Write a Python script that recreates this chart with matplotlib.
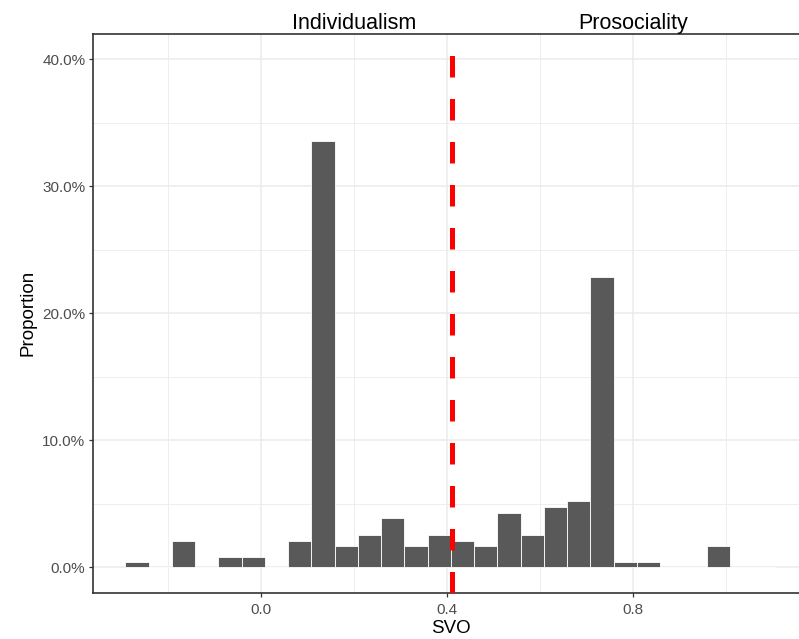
import matplotlib
matplotlib.use("Agg")
import matplotlib.pyplot as plt
from matplotlib.ticker import FuncFormatter, MultipleLocator

plt.rcParams['font.family'] = ['Liberation Sans', 'DejaVu Sans']

# histogram bins (centre of each SVO bin) and share of respondents in %
bin_centres = [-0.267, -0.217, -0.167, -0.117, -0.067, -0.017, 0.033, 0.083,
               0.133, 0.183, 0.233, 0.283, 0.333, 0.383, 0.433, 0.483,
               0.533, 0.583, 0.633, 0.683, 0.733, 0.783, 0.833, 0.883,
               0.933, 0.983, 1.033, 1.083]
proportion = [0.42, 0.0, 2.1, 0.0, 0.84, 0.84, 0.0, 2.1,
              33.6, 1.68, 2.55, 3.9, 1.68, 2.55, 2.1, 1.68,
              4.3, 2.55, 4.78, 5.22, 22.9, 0.42, 0.42, 0.0,
              0.0, 1.68, 0.0, 0.0]
bin_width = 0.05
cutoff = 0.411
group_labels = ["Individualism", "Prosociality"]
group_label_x = [0.2, 0.8]

fig = plt.figure(figsize=(7.99, 6.39), dpi=100)
ax = fig.add_axes([93.3 / 799, (639 - 592.7) / 639, (809.5 - 93.3) / 799, (592.7 - 34) / 639])

heights = [p / 100 for p in proportion]
ax.bar(bin_centres, heights, width=bin_width, color='#595959',
       edgecolor='white', linewidth=0.6, zorder=2)

ax.axvline(cutoff, color='#FF0000', linewidth=3.6,
           linestyle=(0, (4.3, 4.3)), zorder=3)

ax.set_xlim(-0.361, 1.179)
ax.set_ylim(-0.02, 0.42)

ax.xaxis.set_major_locator(MultipleLocator(0.4))
ax.xaxis.set_minor_locator(MultipleLocator(0.2))
ax.yaxis.set_major_locator(MultipleLocator(0.1))
ax.yaxis.set_minor_locator(MultipleLocator(0.05))
ax.xaxis.set_major_formatter(FuncFormatter(lambda v, p: "%.1f" % v))
ax.yaxis.set_major_formatter(FuncFormatter(lambda v, p: "%.1f%%" % (v * 100)))

ax.grid(which='major', color='#EBEBEB', linewidth=1.1, zorder=0)
ax.grid(which='minor', color='#EBEBEB', linewidth=0.6, zorder=0)
ax.set_axisbelow(True)

for s in ax.spines.values():
    s.set_color('#333333')
    s.set_linewidth(1.2)

ax.tick_params(which='major', length=3.2, width=0.9, color='#333333',
               labelsize=11, labelcolor='#4D4D4D', pad=2.5)
ax.tick_params(axis='x', which='major', pad=4)
ax.tick_params(which='minor', length=0)

ax.set_xlabel("SVO", fontsize=13.5, labelpad=2.5)
ax.set_ylabel("Proportion", fontsize=13.5, labelpad=4)

for lab, xpos in zip(group_labels, group_label_x):
    ax.text(xpos, 1.0, lab, transform=ax.get_xaxis_transform(),
            ha='center', va='bottom', fontsize=15.5, clip_on=False)

fig.savefig("out.png", dpi=100)
